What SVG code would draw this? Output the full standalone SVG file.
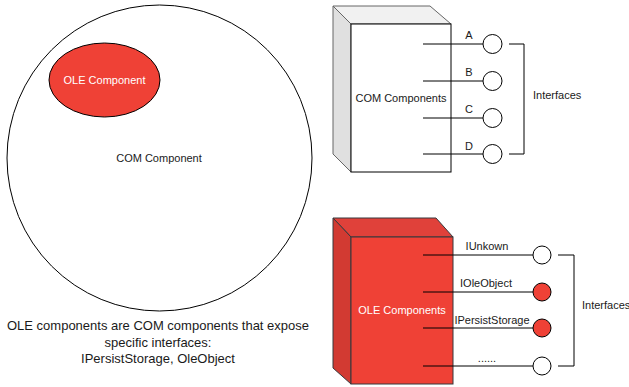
<svg xmlns="http://www.w3.org/2000/svg" width="629" height="387" viewBox="0 0 629 387">
<style>
text{font-family:"Liberation Sans",Arial,sans-serif;font-size:11px;fill:#1a1a1a}
.w{fill:#ffffff}
.c{text-anchor:middle}
.ln{stroke:#000;stroke-width:1;fill:none}
.port{stroke:#000;stroke-width:1;fill:#fff}
.rport{stroke:#000;stroke-width:1;fill:#ef4136}
</style>
<rect width="629" height="387" fill="#fff"/>
<g id="com-circle">
<ellipse cx="159.5" cy="158" rx="152.5" ry="153" fill="#fff" stroke="#000"/>
<text class="c" x="159" y="162">COM Component</text>
</g>
<g id="ole-ellipse">
<ellipse cx="104.5" cy="80" rx="55.5" ry="37" fill="#ef4136" stroke="#000"/>
<text class="c w" x="104.5" y="84">OLE Component</text>
</g>
<g id="caption">
<text class="c" style="font-size:13px" x="158" y="330">OLE components are COM components that expose</text>
<text class="c" style="font-size:13px" x="158" y="346.5">specific interfaces:</text>
<text class="c" style="font-size:13px" x="158" y="363">IPersistStorage, OleObject</text>
</g>
<g id="com-cube">
<polygon points="333,6 430,6 451,24 351,24" fill="#f1f1f1" stroke="#666"/>
<polygon points="333,6 351,24 351,172 333,154" fill="#e0e0e0" stroke="#666"/>
<rect x="351" y="24" width="100" height="148" fill="#fff" stroke="#000"/>
<text class="c" x="401" y="102">COM Components</text>
</g>
<g id="ole-cube">
<polygon points="333,218 436,218 453,237 351,237" fill="#e0413a" stroke="#36393d"/>
<polygon points="333,218 351,237 351,384 333,368" fill="#d23a32" stroke="#36393d"/>
<rect x="351" y="237" width="102" height="147" fill="#ef4136" stroke="#36393d"/>
<text class="c w" x="402" y="314">OLE Components</text>
</g>
<g id="connectors">
<line class="ln" x1="423" y1="44" x2="483" y2="44"/>
<line class="ln" x1="423" y1="81" x2="483" y2="81"/>
<line class="ln" x1="423" y1="118" x2="483" y2="118"/>
<line class="ln" x1="423" y1="154" x2="483" y2="154"/>
<path class="ln" d="M509,44 H524 V154 H509"/>
<line class="ln" x1="423" y1="255" x2="533" y2="255"/>
<line class="ln" x1="423" y1="292" x2="533" y2="292"/>
<line class="ln" x1="423" y1="328" x2="533" y2="328"/>
<line class="ln" x1="423" y1="366" x2="533" y2="366"/>
<path class="ln" d="M558,255 H574 V366 H558"/>
</g>
<g id="com-ports">
<circle class="port" cx="492.5" cy="44" r="9.5"/>
<circle class="port" cx="492.5" cy="81" r="9.5"/>
<circle class="port" cx="492.5" cy="118" r="9.5"/>
<circle class="port" cx="492.5" cy="154" r="9.5"/>
<text class="c" x="469" y="39">A</text>
<text class="c" x="469" y="76">B</text>
<text class="c" x="469" y="113">C</text>
<text class="c" x="469" y="150">D</text>
<text x="533" y="99">Interfaces</text>
</g>
<g id="ole-ports">
<circle class="port" cx="542" cy="255" r="9"/>
<circle class="rport" cx="542" cy="292" r="9"/>
<circle class="rport" cx="542" cy="328" r="9"/>
<circle class="port" cx="542" cy="366" r="9"/>
<text class="c" x="487" y="250">IUnkown</text>
<text class="c" x="486" y="287">IOleObject</text>
<text class="c" x="492" y="324">IPersistStorage</text>
<text class="c" x="487" y="362">......</text>
<text x="582" y="309">Interfaces</text>
</g>
</svg>
